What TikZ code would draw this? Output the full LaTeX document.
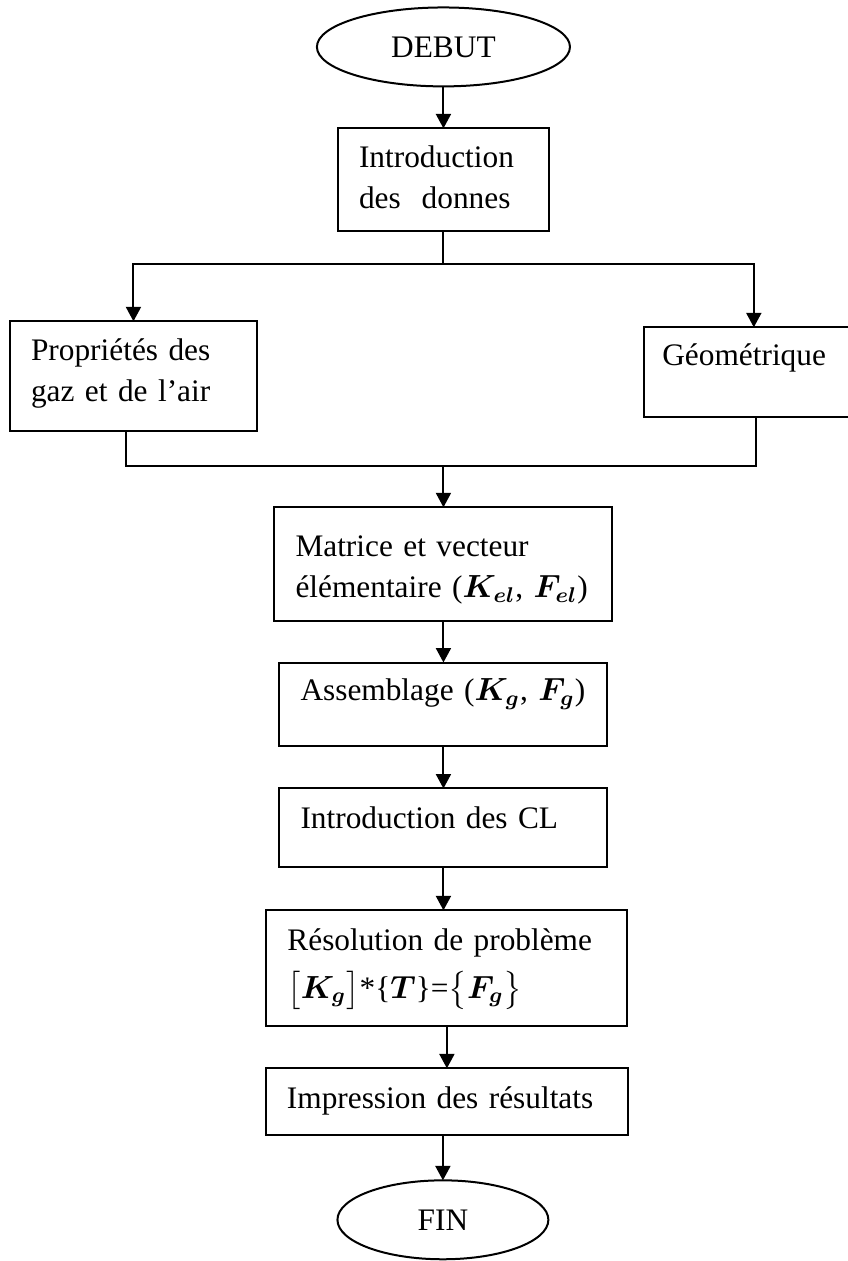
\documentclass[tikz,border=0pt]{standalone}
\usepackage{fontspec}
\setmainfont{Liberation Serif}
\usepackage{amsmath}
\usepackage{bm}
\usepackage{tikz}
\usetikzlibrary{positioning, arrows.meta, shapes.geometric}

\begin{document}
\begin{tikzpicture}[
        font=\fontsize{11.75}{15.4}\selectfont,
        line width=0.75pt,
        box/.style={draw, rectangle, align=left, inner xsep=7.9pt, inner ysep=0pt, outer sep=0pt, text height=14.6pt},
        term/.style={draw, ellipse, inner sep=0pt, outer sep=0pt, minimum height=29.6pt},
        arrow/.style={-{Triangle[length=5.4pt, width=5.6pt]}}
    ]
        \useasboundingbox (-166.3pt,17.6pt) rectangle (151.7pt,-455.3pt);

        % Define the nodes
        \node[term, minimum width=94.9pt] (debut) {DEBUT};
        \node[box, text width=63.3pt, text depth=24pt, below=15.75pt of debut] (intro) {Introduction\\des~~donnes};

        \node[box, text width=76.8pt, text depth=26.6pt, below left=33.75pt and 30.4pt of intro] (props) {Propriétés des\\gaz et de l’air};
        \node[box, text width=63pt, inner xsep=6.95pt, text height=14.25pt, text depth=19.5pt, below right=36pt and 35.6pt of intro] (geom) {Géométrique};

        \node[box, text width=110.95pt, text height=18.4pt, text depth=24.4pt, below=103.5pt of intro] (matrice) {Matrice et vecteur\\élémentaire~(\(\bm{K_{el}}\),~\(\bm{F_{el}}\))};
        \node[box, text width=107.2pt, text height=14.25pt, text depth=17.25pt, below=15.4pt of matrice] (assemb) {Assemblage~(\(\bm{K_g}\),~\(\bm{F_g}\))};
        \node[box, text width=107.2pt, text height=15pt, text depth=14.6pt, below=15.75pt of assemb] (cl) {Introduction des CL};
        \node[box, text width=119.6pt, text height=15pt, text depth=28.5pt, below=16.1pt of cl, xshift=1.3pt] (resol) {Résolution de problème\\[2.5pt]\(\bigl[\bm{K_g}\bigr]\)*\{\(\bm{T}\)\}=\(\bigl\{\bm{F_g}\bigr\}\)};
        \node[box, text width=119.95pt, text height=15pt, text depth=10.1pt, below=15.75pt of resol] (impr) {Impression des résultats};
        \node[term, minimum width=79.1pt, below=16.9pt of impr, xshift=-1.5pt] (fin) {FIN};

        \coordinate[below=12.4pt of intro] (split);
        \coordinate[above=15.4pt of matrice] (merge);

        % Define the edges
        \draw[arrow] (debut) -- (intro);
        \draw (intro) -- (split);
        \draw[arrow] (split) -| (props);
        \draw[arrow] (split) -| ([xshift=2.8pt]geom.north);

        \draw ([xshift=-2.8pt]props.south) |- (merge) -| ([xshift=3.6pt]geom.south);
        \draw[arrow] (merge) -- (matrice);

        \draw[arrow] (matrice) -- (assemb);
        \draw[arrow] (assemb) -- (cl);
        \draw[arrow] (cl) -- (cl.south |- resol.north);
        \draw[arrow] (resol) -- (impr);
        \draw[arrow] (impr.south -| fin) -- (fin);
    \end{tikzpicture}
\end{document}
